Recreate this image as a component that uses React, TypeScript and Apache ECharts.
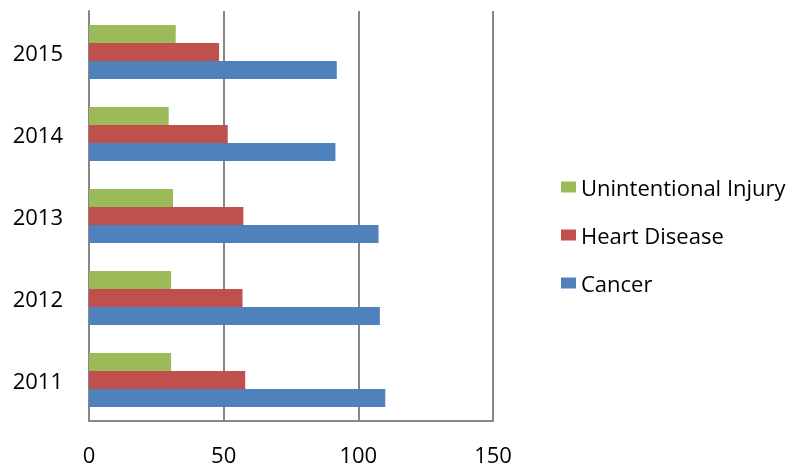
import React, { useEffect, useRef } from "react";
import * as echarts from "echarts";

const years = ["2011", "2012", "2013", "2014", "2015"];
const cancer = [110, 108, 107.5, 91.5, 92];
const heartDisease = [58, 57, 57.3, 51.5, 48.3];
const unintentionalInjury = [30.5, 30.5, 31.2, 29.6, 32.2];
const legendOrder = ["Unintentional Injury", "Heart Disease", "Cancer"];

const FONT = "Open Sans";

export default function App() {
  const ref = useRef<HTMLDivElement>(null);
  useEffect(() => {
    if (!ref.current) return;
    const chart = echarts.init(ref.current, null, { renderer: "svg" });
    const gridColor = "#878787";
    chart.setOption({
      animation: false,
      textStyle: { fontFamily: FONT },
      grid: { left: 89, right: 303, top: 11, bottom: 47 },
      legend: {
        orient: "vertical",
        left: 556,
        top: 171,
        itemWidth: 15,
        itemHeight: 11,
        itemGap: 26,
        icon: "rect",
        data: legendOrder,
        textStyle: { fontFamily: FONT, fontSize: 22, color: "#000", lineHeight: 22 },
      },
      xAxis: {
        type: "value",
        min: 0,
        max: 150,
        interval: 50,
        axisLine: { show: true, lineStyle: { color: gridColor, width: 2 } },
        axisTick: { show: false },
        splitLine: { show: true, lineStyle: { color: gridColor, width: 2 } },
        axisLabel: { fontFamily: FONT, fontSize: 22, color: "#000", margin: 22 },
      },
      yAxis: {
        type: "category",
        data: years,
        axisLine: { show: true, lineStyle: { color: gridColor, width: 2 } },
        axisTick: { show: false },
        axisLabel: { fontFamily: FONT, fontSize: 22, color: "#000", margin: 26 },
      },
      series: [
        { name: "Unintentional Injury", type: "bar", data: unintentionalInjury, itemStyle: { color: "#9BBB59" }, barWidth: 18, barGap: "0%" },
        { name: "Heart Disease", type: "bar", data: heartDisease, itemStyle: { color: "#C0504D" }, barWidth: 18, barGap: "0%" },
        { name: "Cancer", type: "bar", data: cancer, itemStyle: { color: "#4F81BD" }, barWidth: 18, barGap: "0%" },
      ],
    });
    return () => chart.dispose();
  }, []);
  return <div ref={ref} style={{ position: "fixed", left: 0, top: 0, width: 796, height: 468 }} />;
}
